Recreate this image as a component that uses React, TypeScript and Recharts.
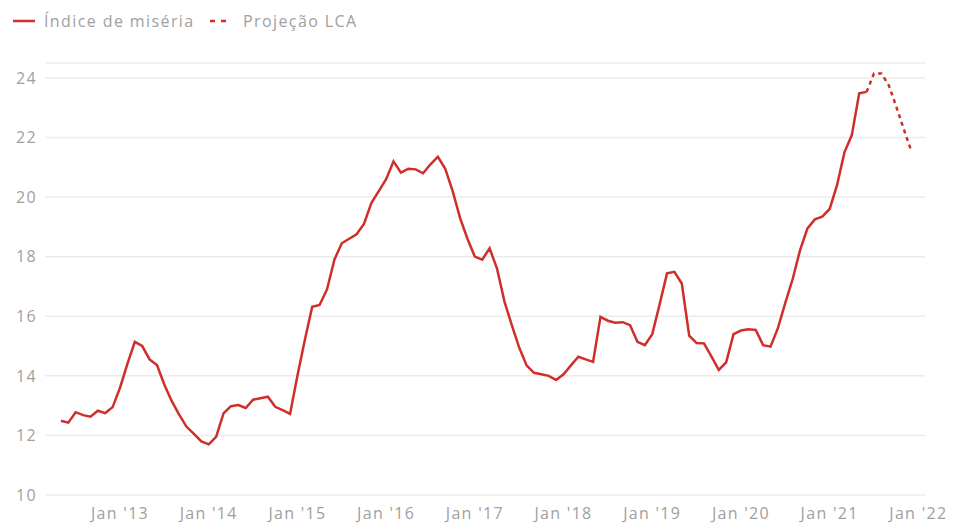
import React from "react";
import { LineChart, Line, XAxis, YAxis, CartesianGrid } from "recharts";

// month index: 0 = Jan 2013
const monthIndex: number[] = [];
for (let m = -8; m <= 107; m++) monthIndex.push(m);

// Índice de miséria, May 2012 .. Jun 2021 (monthly)
const miseria: number[] = [
  12.49, 12.43, 12.78, 12.68, 12.63, 12.83, 12.75, 12.95,
  13.6, 14.4, 15.14, 15.0, 14.55, 14.36, 13.7, 13.15, 12.7, 12.29, 12.05, 11.8,
  11.7, 11.95, 12.74, 12.98, 13.02, 12.92, 13.2, 13.25, 13.3, 12.96, 12.85, 12.72,
  14.0, 15.2, 16.32, 16.38, 16.9, 17.9, 18.45, 18.6, 18.75, 19.1, 19.8, 20.2,
  20.6, 21.2, 20.82, 20.95, 20.93, 20.8, 21.1, 21.35, 20.95, 20.2, 19.3, 18.6,
  18.0, 17.9, 18.28, 17.6, 16.5, 15.7, 14.95, 14.35, 14.1, 14.05, 14.0, 13.86,
  14.05, 14.35, 14.64, 14.55, 14.47, 15.98, 15.85, 15.78, 15.8, 15.7, 15.14, 15.03,
  15.4, 16.4, 17.44, 17.49, 17.1, 15.35, 15.1, 15.09, 14.65, 14.2, 14.45, 15.4,
  15.52, 15.56, 15.54, 15.03, 14.98, 15.6, 16.45, 17.25, 18.22, 18.95, 19.25, 19.34,
  19.6, 20.4, 21.5, 22.08, 23.48, 23.53,
];

// Projeção LCA, Jun 2021 .. Dec 2021
const projStart = 101;
const projecao: number[] = [23.53, 24.15, 24.15, 23.75, 23.05, 22.3, 21.58];

const xTicks: number[] = [0, 12, 24, 36, 48, 60, 72, 84, 96, 108];
const yTicks: number[] = [10, 12, 14, 16, 18, 20, 22, 24];
const legendLabels: string[] = ["Índice de miséria", "Projeção LCA"];

const data = monthIndex.map((m) => {
  const i = m + 8;
  const pi = m - projStart;
  return {
    idx: m,
    miseria: i >= 0 && i < miseria.length ? miseria[i] : null,
    proj: pi >= 0 && pi < projecao.length ? projecao[pi] : null,
  };
});

const RED = "#cf2e2a";
const GRAY = "#a0a0a0";
const FONT = "'Open Sans', sans-serif";
const tickStyle = { fill: GRAY, fontSize: 16, fontFamily: FONT, letterSpacing: 1.3 };

const fmtX = (v: number) => `Jan '${13 + Math.round(v / 12)}`;

const LegendBox = () => (
  <div style={{ position: "absolute", left: 0, top: 0, width: 400, height: 40, fontFamily: FONT, fontSize: 16, color: GRAY, letterSpacing: 1.4 }}>
    <svg width={40} height={40} style={{ position: "absolute", left: 0, top: 0 }}>
      <line x1={13} y1={21} x2={35} y2={21} stroke={RED} strokeWidth={2.5} />
    </svg>
    <span style={{ position: "absolute", left: 44, top: 10, whiteSpace: "nowrap", lineHeight: "22px" }}>{legendLabels[0]}</span>
    <svg width={40} height={40} style={{ position: "absolute", left: 200, top: 0 }}>
      <line x1={10} y1={21} x2={28} y2={21} stroke={RED} strokeWidth={2.5} strokeDasharray="5 6" />
    </svg>
    <span style={{ position: "absolute", left: 243, top: 10, whiteSpace: "nowrap", lineHeight: "22px" }}>{legendLabels[1]}</span>
  </div>
);

export default function App() {
  return (
    <div style={{ position: "absolute", left: 0, top: 0, width: 954, height: 527, background: "#fff" }}>
      <LegendBox />
      <div style={{ position: "absolute", left: 0, top: 0 }}>
        <LineChart width={954} height={527} data={data} margin={{ top: 63, right: 29, bottom: 0, left: 0 }}>
          <CartesianGrid vertical={false} stroke="#ebebeb" strokeWidth={1.5} />
          <XAxis
            dataKey="idx"
            type="number"
            domain={[-10.15, 108.9]}
            allowDataOverflow
            ticks={xTicks}
            tickFormatter={fmtX}
            axisLine={false}
            tickLine={false}
            height={32}
            tickMargin={7}
            tick={tickStyle}
            interval={0}
          />
          <YAxis
            domain={[10, 24.5]}
            ticks={yTicks}
            allowDataOverflow
            axisLine={false}
            tickLine={false}
            width={45}
            tick={tickStyle}
            interval={0}
          />
          <Line
            dataKey="miseria"
            stroke={RED}
            strokeWidth={2.5}
            dot={false}
            type="linear"
            connectNulls={false}
            isAnimationActive={false}
          />
          <Line
            dataKey="proj"
            stroke={RED}
            strokeWidth={2.5}
            strokeDasharray="4 4"
            dot={false}
            type="linear"
            isAnimationActive={false}
          />
        </LineChart>
      </div>
    </div>
  );
}
